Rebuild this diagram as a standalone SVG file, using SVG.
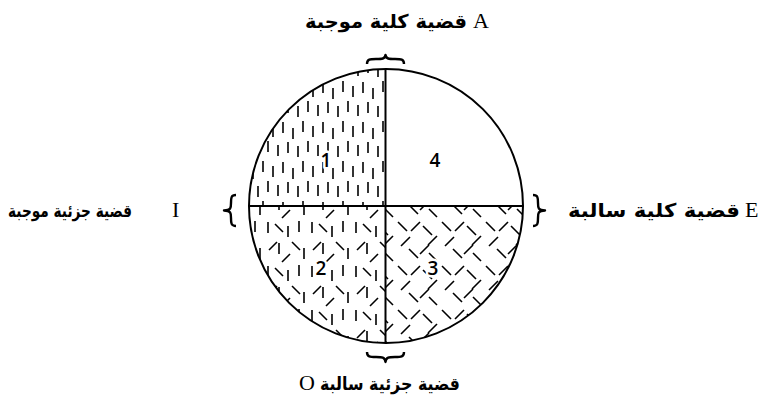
<svg xmlns="http://www.w3.org/2000/svg" width="762" height="401" viewBox="0 0 762 401">
<style>
.ar{font-family:"DejaVu Sans",sans-serif;font-weight:bold;font-size:19px;fill:#000}
.arc{font-family:"DejaVu Sans Condensed","DejaVu Sans",sans-serif;font-weight:bold;font-size:18px;fill:#000}
.lt{font-family:"Liberation Serif",serif;font-size:22px;fill:#000}
.num{font-family:"Open Sans","DejaVu Sans",sans-serif;font-size:19px;font-weight:600;fill:#000;stroke:#fff;stroke-width:5;paint-order:stroke;stroke-linejoin:round}
.ln{stroke:#000;stroke-width:2;fill:none}
.br{stroke:#000;stroke-width:2.4;fill:none;stroke-linejoin:round}
.h{stroke:#000;stroke-width:1.6;stroke-linecap:butt}
</style>
<defs>
<pattern id="pv" width="40" height="40" patternUnits="userSpaceOnUse">
<g class="h">
<line x1="3" y1="2" x2="3" y2="13"/><line x1="13" y1="8" x2="13" y2="19"/><line x1="23" y1="1" x2="23" y2="12"/><line x1="33" y1="6" x2="33" y2="17"/>
<line x1="8" y1="22" x2="8" y2="33"/><line x1="18" y1="26" x2="18" y2="37"/><line x1="28" y1="21" x2="28" y2="32"/><line x1="38" y1="25" x2="38" y2="36"/>
</g>
</pattern>
<pattern id="pm" width="44" height="44" patternUnits="userSpaceOnUse">
<g class="h">
<line x1="4" y1="2" x2="4" y2="13"/><line x1="24" y1="6" x2="24" y2="17"/><line x1="35" y1="1" x2="35" y2="12"/>
<line x1="11" y1="4" x2="19" y2="12"/><line x1="28" y1="22" x2="36" y2="30"/>
<line x1="5" y1="30" x2="13" y2="22"/><line x1="18" y1="42" x2="26" y2="34"/>
<line x1="15" y1="23" x2="15" y2="34"/><line x1="40" y1="28" x2="40" y2="39"/>
</g>
</pattern>
<pattern id="pd" width="44" height="44" patternUnits="userSpaceOnUse">
<g class="h">
<line x1="2" y1="2" x2="11" y2="11"/><line x1="15" y1="11" x2="24" y2="2"/><line x1="27" y1="6" x2="36" y2="15"/><line x1="32" y1="25" x2="41" y2="16"/>
<line x1="5" y1="26" x2="14" y2="17"/><line x1="13" y1="29" x2="22" y2="38"/><line x1="24" y1="34" x2="33" y2="25"/><line x1="33" y1="33" x2="41" y2="41"/>
</g>
</pattern>
</defs>

<g id="hatching">
<path d="M386,206 L249,206 A137,137 0 0 1 386,69 Z" fill="url(#pv)"/>
<path d="M386,206 L386,343 A137,137 0 0 1 249,206 Z" fill="url(#pm)"/>
<path d="M386,206 L523,206 A137,137 0 0 1 386,343 Z" fill="url(#pd)"/>
</g>

<g id="circle">
<circle cx="386" cy="206" r="137" class="ln"/>
<line x1="385.5" y1="69" x2="385.5" y2="343" class="ln"/>
<line x1="249" y1="206" x2="523" y2="206" class="ln"/>
</g>

<g id="q1"><text x="326" y="167" class="num" text-anchor="middle">1</text></g>
<g id="q2"><text x="321" y="275" class="num" text-anchor="middle">2</text></g>
<g id="q3"><text x="433" y="275" class="num" text-anchor="middle">3</text></g>
<g id="q4"><text x="435" y="167" class="num" text-anchor="middle">4</text></g>

<g id="connectors">
<path class="br" d="M367,64 C367,59 370,59 376,59 C382,59 385,59 385.5,55 C386,59 389,59 395,59 C401,59 404,59 404,64"/>
<path class="br" d="M236,195 C231,195 231,198 231,203 C231,208 231,210 224,210.5 C231,211 231,213 231,218 C231,223 231,226 236,226"/>
<path class="br" d="M533,195 C538,195 538,198 538,203 C538,208 538,210 545,210.5 C538,211 538,213 538,218 C538,223 538,226 533,226"/>
<path class="br" d="M367,352 C367,357 370,357 376,357 C382,357 385,357 385.5,362 C386,357 389,357 395,357 C401,357 404,357 404,352"/>
</g>

<g id="A">
<text x="305" y="28" class="ar" textLength="162" lengthAdjust="spacingAndGlyphs">قضية كلية موجبة</text>
<text x="473" y="28" class="lt">A</text>
</g>
<g id="I">
<text x="8" y="217" class="arc" textLength="124" lengthAdjust="spacingAndGlyphs">قضية جزئية موجبة</text>
<text x="172" y="217" class="lt">I</text>
</g>
<g id="E">
<text x="568" y="217" class="ar" textLength="172" lengthAdjust="spacingAndGlyphs">قضية كلية سالبة</text>
<text x="745" y="217" class="lt">E</text>
</g>
<g id="O">
<text x="320" y="390" class="arc" textLength="140" lengthAdjust="spacingAndGlyphs">قضية جزئية سالبة</text>
<text x="299" y="390" class="lt">O</text>
</g>
</svg>
